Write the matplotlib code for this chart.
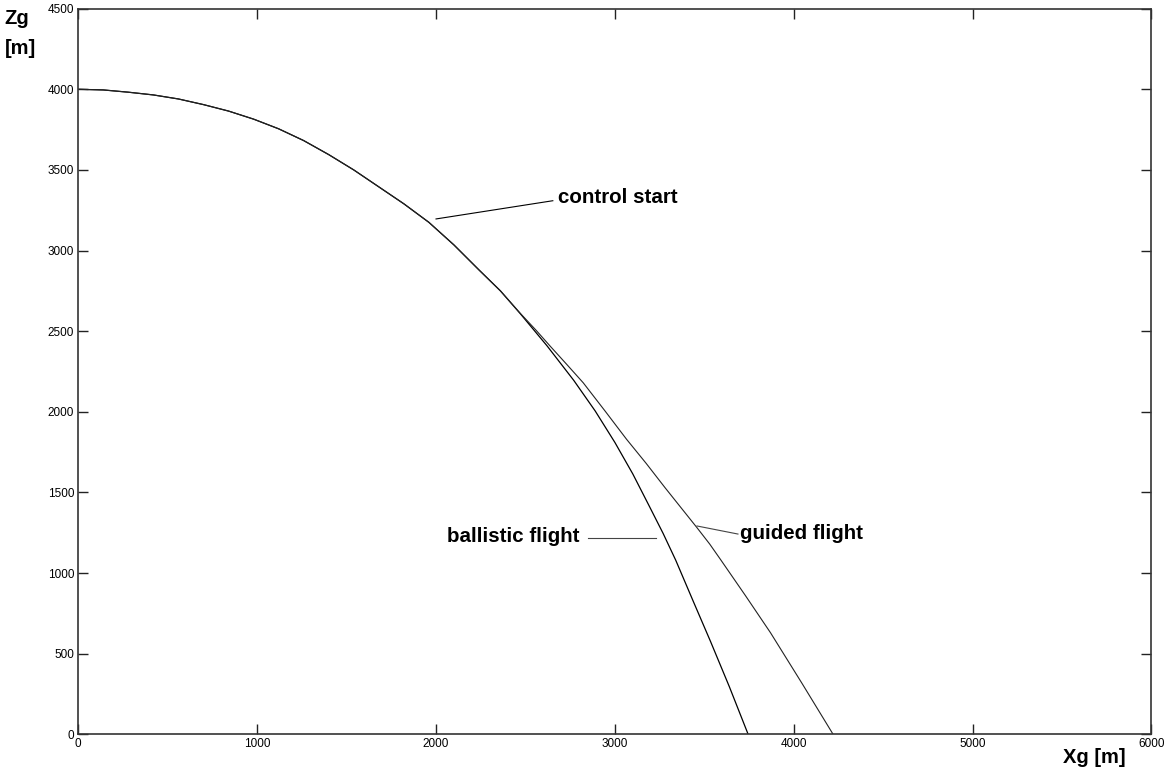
import matplotlib.pyplot as plt

# trajectories (Xg, Zg in metres)
ballistic_x = [0, 140, 280, 420, 560, 700, 840, 980, 1120, 1260, 1400, 1540, 1680, 1820, 1960, 2100,
               2240, 2360, 2470, 2620, 2770, 2890, 3000, 3100, 3190, 3270, 3340, 3440, 3535, 3640, 3745]
ballistic_z = [4000, 3996, 3982, 3965, 3940, 3905, 3865, 3815, 3755, 3682, 3595, 3500, 3395, 3290, 3175, 3035,
               2880, 2750, 2610, 2410, 2195, 2005, 1810, 1615, 1420, 1245, 1080, 820, 575, 295, 0]

guided_x = [0, 140, 280, 420, 560, 700, 840, 980, 1120, 1260, 1400, 1540, 1680, 1820, 1960, 2100,
            2240, 2360, 2470, 2560, 2640, 2730, 2823, 2945, 3065, 3175, 3280, 3370, 3460, 3530, 3590,
            3730, 3870, 4045, 4220]
guided_z = [4000, 3996, 3982, 3965, 3940, 3905, 3865, 3815, 3755, 3682, 3595, 3500, 3395, 3290, 3175, 3035,
            2880, 2750, 2612, 2505, 2405, 2295, 2180, 2005, 1830, 1680, 1530, 1405, 1280, 1180, 1085,
            860, 630, 318, 0]

xticks = [0, 1000, 2000, 3000, 4000, 5000, 6000]
yticks = [0, 500, 1000, 1500, 2000, 2500, 3000, 3500, 4000, 4500]

plt.rcParams['font.family'] = ['Liberation Sans', 'DejaVu Sans']

fig = plt.figure(figsize=(11.67, 7.67), dpi=100)
ax = fig.add_axes([0.0671, 0.0426, 0.9196, 0.9461])

ax.plot(ballistic_x, ballistic_z, color='black', lw=0.9)
ax.plot(guided_x, guided_z, color='#222222', lw=0.8)

ax.set_xlim(0, 6000)
ax.set_ylim(0, 4500)
ax.set_xticks(xticks)
ax.set_yticks(yticks)
ax.tick_params(direction='in', length=7.5, width=1, labelsize=8.5,
               top=True, right=True, colors='#222222', labelcolor='black', pad=3)
for s in ax.spines.values():
    s.set_linewidth(1.2)
    s.set_color('#333333')

# annotations
bold = dict(fontsize=14.8, fontweight='bold', va='center')
ax.plot([2000, 2653], [3196, 3309], color='black', lw=0.8)
ax.text(2680, 3327, 'control start', ha='left', **bold)

ax.plot([2848, 3228], [1218, 1218], color='#444444', lw=0.8)
ax.text(2804, 1224, 'ballistic flight', ha='right', **bold)

ax.plot([3459, 3688], [1292, 1242], color='#444444', lw=0.8)
ax.text(3699, 1248, 'guided flight', ha='left', **bold)

# axis labels in the corners, MATLAB style
lab = dict(fontsize=14.5, fontweight='bold', va='center', ha='left')
fig.text(0.004, 0.976, 'Zg', **lab)
fig.text(0.004, 0.937, '[m]', **lab)
fig.text(0.911, 0.013, 'Xg [m]', **lab)

fig.savefig('out.png', dpi=100)
